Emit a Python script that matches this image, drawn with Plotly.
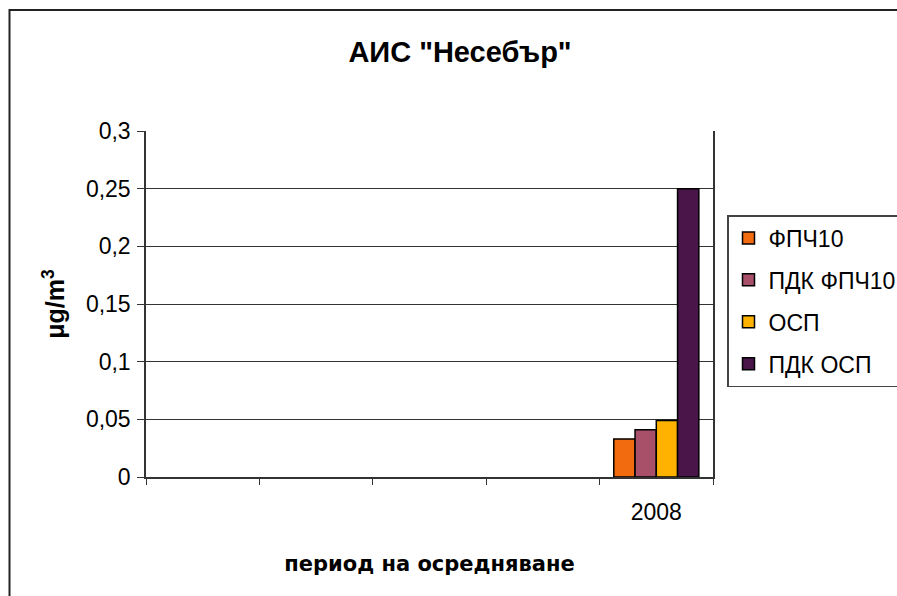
import plotly.graph_objects as go

# ---- data ----
categories = [" ", "  ", "   ", "    ", "2008"]
series_names = ["ФПЧ10", "ПДК ФПЧ10", "ОСП", "ПДК ОСП"]
series_values = [0.033, 0.041, 0.049, 0.25]
series_colors = ["#F26B0F", "#A8506A", "#FFB300", "#4A1548"]
data_category = "2008"
title_text = 'АИС "Несебър"'
y_title = "μg/m<sup>3</sup>"
x_title = "период на осредняване"

W, H = 897, 596
L, R, T, B = 146, 713, 131, 477

fig = go.Figure()
for i, (name, val, col) in enumerate(zip(series_names, series_values, series_colors)):
    fig.add_trace(go.Bar(
        x=[data_category], y=[val], name=name,
        legendgroup=f"g{i}",
        marker=dict(color=col, line=dict(color="#000000", width=1.5)),
    ))

font_family = "Liberation Sans, Arial, sans-serif"
pw = R - L
ph = B - T

fig.update_layout(
    width=W, height=H,
    margin=dict(l=L, r=W - R, t=T, b=H - B, autoexpand=False),
    paper_bgcolor="white", plot_bgcolor="white",
    separators=", ",
    barmode="group", bargap=0.25, bargroupgap=0,
    font=dict(family=font_family, size=23, color="#000000"),
    title=dict(text=f"<b>{title_text}</b>", xref="container", yref="container",
               x=460 / W, y=1 - 52 / H, xanchor="center", yanchor="middle",
               font=dict(size=29)),
    xaxis=dict(type="category", categoryorder="array", categoryarray=categories,
               range=[-0.5, len(categories) - 0.5],
               tickson="boundaries", ticks="outside", ticklen=6, tickcolor="#333333",
               ticklabelstandoff=14,
               showline=True, linecolor="#333333", linewidth=1.5, showgrid=False,
               tickfont=dict(size=23),
               title=dict(text=f"<b>{x_title}</b>", standoff=32,
                          font=dict(size=21, family="DejaVu Sans, sans-serif"))),
    yaxis=dict(range=[0, 0.3], dtick=0.05, tick0=0,
               ticks="outside", ticklen=7, tickcolor="#333333",
               ticklabelstandoff=2,
               showline=True, linecolor="#333333", linewidth=1.5, mirror=True,
               showgrid=True, gridcolor="#333333", gridwidth=1, zeroline=False,
               tickfont=dict(size=23),
               title=dict(text=f"<b>{y_title}</b>", standoff=14, font=dict(size=25))),
    legend=dict(x=(727 - L) / pw, y=(B - 215) / ph, xanchor="left", yanchor="top",
                bordercolor="#444444", borderwidth=1.5, bgcolor="white",
                traceorder="grouped", tracegroupgap=9,
                font=dict(size=23)),
    shapes=[dict(type="rect", xref="paper", yref="paper",
                 x0=(9.5 - L) / pw, x1=(W + 20 - L) / pw,
                 y0=(B - (H + 20)) / ph, y1=(B - 10) / ph,
                 line=dict(color="#222222", width=2), fillcolor="rgba(0,0,0,0)",
                 layer="below")],
)

fig.write_html("out.html", config={"displayModeBar": False},
               post_script="document.body.style.margin='0';document.body.style.overflow='hidden';")
